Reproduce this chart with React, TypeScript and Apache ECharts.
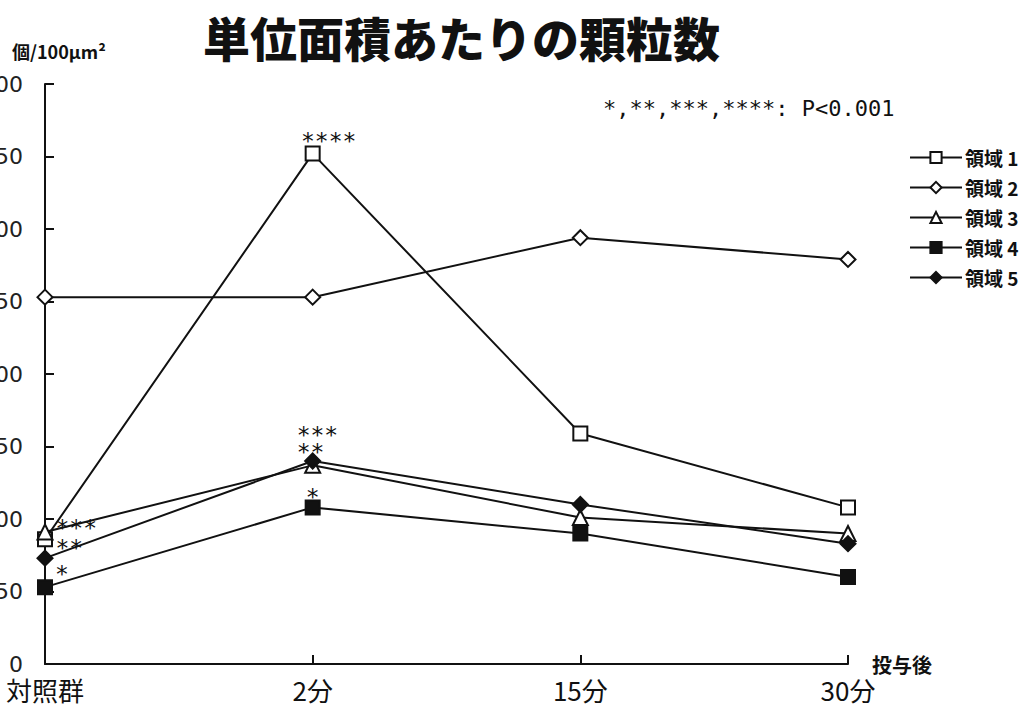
import React, { useEffect, useRef } from "react";
import * as echarts from "echarts";

const titleText = "単位面積あたりの顆粒数";
const yUnit = "個/100μm²";
const noteText = "*,**,***,****: P<0.001";
const xName = "投与後";
const categories = ["対照群", "2分", "15分", "30分"];
const seriesNames = ["領域 1", "領域 2", "領域 3", "領域 4", "領域 5"];
const region1 = [86, 352, 159, 108];
const region2 = [253, 253, 294, 279];
const region3 = [91, 137, 101, 90];
const region4 = [53, 108, 90, 60];
const region5 = [73, 140, 110, 83];
const seriesData = [region1, region2, region3, region4, region5];
const symbols = ["emptyRect", "emptyDiamond", "emptyTriangle", "rect", "diamond"];
const symbolSizes = [14, 15, 15, 14, 15];
const yMin = 0;
const yMax = 400;
const yInterval = 50;

// significance marks: [series index, category index, text]
const marks: [number, number, string][] = [
  [0, 1, "****"],
  [4, 1, "***\n**"],
  [3, 1, "*"],
  [2, 0, "***"],
  [4, 0, "**"],
  [3, 0, "*"],
];

function markLabel(s: number, i: number) {
  const m = marks.find((k) => k[0] === s && k[1] === i);
  if (!m) return undefined;
  const base = {
    show: true,
    formatter: m[2],
    fontFamily: "DejaVu Sans Mono",
    fontSize: 23,
    color: "#111",
    lineHeight: 17,
  };
  if (i === 0) {
    const off = s === 2 ? [-2, -4] : s === 4 ? [-2, -10] : [-2, -13];
    return { ...base, position: "right", distance: 4, offset: off };
  }
  if (s === 0) return { ...base, position: "top", distance: 2, offset: [16, 6] };
  if (s === 4) return { ...base, position: "top", align: "left", distance: 0, offset: [-16, 8] };
  return { ...base, position: "top", distance: 0, offset: [0, 6] };
}

export default function App() {
  const ref = useRef<HTMLDivElement>(null);
  useEffect(() => {
    if (!ref.current) return;
    const chart = echarts.init(ref.current, undefined, { renderer: "svg" });
    const series = seriesData.map((vals, s) => ({
      name: seriesNames[s],
      type: "line",
      data: vals.map((v, i) => {
        const lab = markLabel(s, i);
        return lab ? { value: v, label: lab } : v;
      }),
      symbol: symbols[s],
      symbolSize: symbolSizes[s],
      showAllSymbol: true,
      lineStyle: { color: "#111", width: 2 },
      itemStyle: { color: "#111", borderColor: "#111", borderWidth: 2 },
      label: { show: false },
      emphasis: { disabled: true },
      z: 3 + s,
    }));
    chart.setOption({
      animation: false,
      backgroundColor: "#fff",
      title: {
        text: titleText,
        left: 198,
        top: 8,
        textStyle: {
          fontSize: 47,
          fontWeight: 900,
          fontFamily: "Noto Sans CJK JP",
          color: "#111",
        },
      },
      legend: {
        orient: "vertical",
        left: 904,
        top: 143,
        itemWidth: 52,
        itemHeight: 14,
        itemGap: 11,
        data: seriesNames,
        textStyle: {
          fontSize: 19,
          fontWeight: "bold",
          fontFamily: "Noto Sans CJK JP",
          color: "#111",
          padding: [0, 0, 0, -2],
        },
      },
      grid: {
        left: 45,
        right: 175,
        top: 84,
        bottom: 49,
        containLabel: false,
        outerBoundsMode: "none",
      },
      xAxis: {
        type: "category",
        data: categories,
        boundaryGap: false,
        name: xName,
        nameLocation: "end",
        nameGap: 24,
        nameTextStyle: {
          fontSize: 20,
          fontWeight: "bold",
          fontFamily: "Noto Sans CJK JP",
          color: "#111",
          verticalAlign: "middle",
        },
        axisLine: { lineStyle: { color: "#111", width: 2 } },
        axisTick: { inside: true, length: 9, lineStyle: { color: "#111", width: 2 } },
        axisLabel: {
          fontSize: 26,
          margin: 12,
          color: "#111",
          fontFamily: "Noto Sans CJK JP",
        },
        splitLine: { show: false },
      },
      yAxis: {
        type: "value",
        min: yMin,
        max: yMax,
        interval: yInterval,
        axisLine: { show: true, lineStyle: { color: "#111", width: 2 } },
        axisTick: { show: true, inside: true, length: 9, lineStyle: { color: "#111", width: 2 } },
        axisLabel: {
          fontSize: 22,
          margin: 22,
          color: "#222",
          fontFamily: "DejaVu Sans",
        },
        splitLine: { show: false },
      },
      graphic: [
        {
          type: "text",
          left: 12,
          top: 42,
          style: {
            text: yUnit,
            fontSize: 18,
            fontFamily: "Noto Sans CJK JP",
            fontWeight: "bold",
            fill: "#111",
          },
        },
        {
          type: "text",
          left: 603,
          top: 97,
          style: {
            text: noteText,
            fontSize: 22,
            fontFamily: "DejaVu Sans Mono",
            fill: "#111",
          },
        },
      ],
      series,
    });
    return () => chart.dispose();
  }, []);
  return (
    <div
      ref={ref}
      style={{ position: "fixed", left: 0, top: 0, width: 1023, height: 713 }}
    />
  );
}
